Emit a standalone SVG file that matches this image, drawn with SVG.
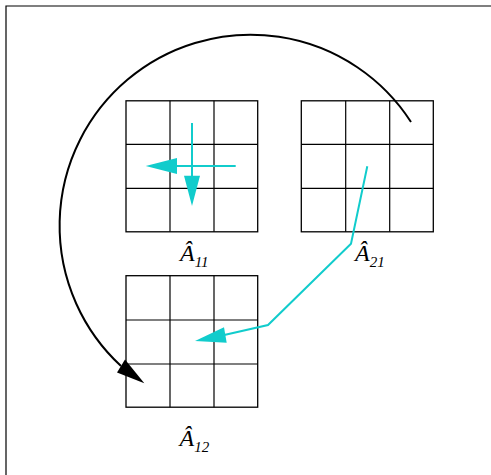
<svg xmlns="http://www.w3.org/2000/svg" width="491" height="475" viewBox="0 0 491 475">
<style>
.grid line{stroke:#000;stroke-width:1.2}
.grid rect{fill:none;stroke:#000;stroke-width:1.3}
.cy{stroke:#11cccc;stroke-width:2;fill:none}
.cyh{fill:#11cccc;stroke:none}
.lbl{font-family:"Liberation Serif",serif;font-style:italic;fill:#000;font-size:24px}
.sub{font-size:15px}
</style>
<rect width="491" height="475" fill="#fff"/>
<g id="frame"><path d="M6 475 V6 H491" fill="none" stroke="#000" stroke-width="1.2"/></g>
<g id="A11" class="grid">
<rect x="126" y="100.8" width="131.7" height="131"/>
<line x1="170" y1="100.8" x2="170" y2="231.8"/><line x1="214" y1="100.8" x2="214" y2="231.8"/>
<line x1="126" y1="144.4" x2="257.7" y2="144.4"/><line x1="126" y1="188.3" x2="257.7" y2="188.3"/>
<text class="lbl" x="180" y="261">Â<tspan class="sub" dy="6">11</tspan></text>
</g>
<g id="A21" class="grid">
<rect x="301.3" y="100.8" width="132" height="131"/>
<line x1="345.7" y1="100.8" x2="345.7" y2="231.8"/><line x1="389.7" y1="100.8" x2="389.7" y2="231.8"/>
<line x1="301.3" y1="144.4" x2="433.3" y2="144.4"/><line x1="301.3" y1="188.3" x2="433.3" y2="188.3"/>
<text class="lbl" x="355" y="261">Â<tspan class="sub" dy="6">21</tspan></text>
</g>
<g id="A12" class="grid">
<rect x="126" y="275.7" width="131.7" height="131.5"/>
<line x1="170" y1="275.7" x2="170" y2="407.2"/><line x1="214" y1="275.7" x2="214" y2="407.2"/>
<line x1="126" y1="320" x2="257.7" y2="320"/><line x1="126" y1="364" x2="257.7" y2="364"/>
<text class="lbl" x="179.5" y="446">Â<tspan class="sub" dy="6">12</tspan></text>
</g>
<g id="connectors">
<path d="M411 122 A191 191 0 1 0 121 366" fill="none" stroke="#000" stroke-width="2"/>
<polygon points="144.3,383.3 125,359.5 117,372.5" fill="#000"/>
<line class="cy" x1="192" y1="123" x2="192" y2="178"/>
<polygon class="cyh" points="192,206 184,175.7 200,175.7"/>
<line class="cy" x1="235.7" y1="166" x2="175" y2="166"/>
<polygon class="cyh" points="145.7,166 177,158 177,174"/>
<polyline class="cy" points="367.3,166.3 351,243.7 268,325 222,335.5"/>
<polygon class="cyh" points="195,341 224,327.3 226.7,342.7"/>
</g>
</svg>
